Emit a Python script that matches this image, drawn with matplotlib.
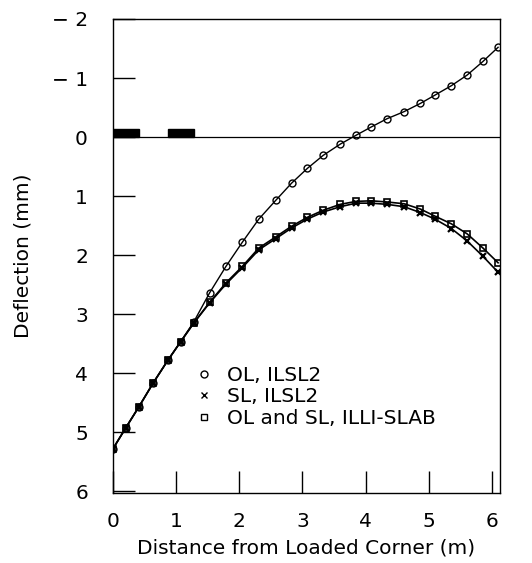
import numpy as np
from matplotlib import pyplot as plt

# distance from loaded corner (m)
x = [0.0, 0.2, 0.41, 0.64, 0.87, 1.07, 1.28, 1.53, 1.79, 2.05, 2.31, 2.58, 2.83,
     3.08, 3.33, 3.60, 3.85, 4.09, 4.34, 4.61, 4.87, 5.10, 5.36, 5.61, 5.86, 6.1]

# deflection (mm), positive = downward
ol_ilsl2 = [5.28, 4.93, 4.57, 4.16, 3.78, 3.47, 3.13, 2.64, 2.19, 1.78, 1.39, 1.07, 0.78,
            0.53, 0.31, 0.12, -0.03, -0.17, -0.31, -0.43, -0.57, -0.71, -0.87, -1.05, -1.28, -1.52]
sl_ilsl2 = [5.28, 4.93, 4.57, 4.16, 3.78, 3.47, 3.15, 2.81, 2.49, 2.21, 1.91, 1.72, 1.54,
            1.39, 1.27, 1.18, 1.12, 1.12, 1.14, 1.18, 1.28, 1.39, 1.55, 1.76, 2.02, 2.29]
illi_slab = [5.28, 4.93, 4.57, 4.16, 3.78, 3.47, 3.15, 2.80, 2.47, 2.19, 1.88, 1.69, 1.51,
             1.36, 1.24, 1.14, 1.09, 1.08, 1.10, 1.13, 1.22, 1.34, 1.47, 1.64, 1.88, 2.13]

# wheel loads drawn on the zero line
wheel_starts = [0.0, 0.87]
wheel_width = 0.41
wheel_height = -0.14

x_ticks = [0, 1, 2, 3, 4, 5, 6]
y_ticks = [-2, -1, 0, 1, 2, 3, 4, 5, 6]
y_tick_labels = ['\u2212 2', '\u2212 1', '0', '1', '2', '3', '4', '5', '6']

fig = plt.figure(figsize=(5.32, 5.63), dpi=100)
ax = fig.add_axes([0.2124, 0.1243, 0.7274, 0.842])

ax.axhline(0, color='black', lw=0.9)
ax.bar(wheel_starts, [wheel_height] * len(wheel_starts), width=wheel_width,
       align='edge', color='black', edgecolor='black')

ax.plot(x, ol_ilsl2, color='black', lw=1.0, marker='o', ms=5, mfc='none',
        mew=1.0, label='OL, ILSL2')
ax.plot(x, sl_ilsl2, color='black', lw=1.2, marker='x', ms=4.5, mew=1.6,
        label='SL, ILSL2')
ax.plot(x, illi_slab, color='black', lw=1.2, marker='s', ms=5, mfc='none',
        mew=1.2, label='OL and SL, ILLI-SLAB')

ax.set_xlim(0, 6.13)
ax.set_ylim(6.03, -2.0)
ax.set_xticks(x_ticks)
ax.set_yticks(y_ticks)
ax.set_yticklabels(y_tick_labels)

ax.tick_params(direction='in', length=16, width=1.0, labelsize=14.5,
               top=False, right=False)
ax.tick_params(axis='y', pad=18)
ax.tick_params(axis='x', pad=14)
for s in ax.spines.values():
    s.set_linewidth(1.0)

ax.set_xlabel('Distance from Loaded Corner (m)', fontsize=14.5, labelpad=5)
ax.set_ylabel('Deflection (mm)', fontsize=14.5, labelpad=14)

leg = ax.legend(loc='upper left', bbox_to_anchor=(0.2, 0.285), frameon=False,
                fontsize=14.5, handlelength=0.6, handletextpad=0.8,
                labelspacing=0.12, borderaxespad=0)
for h in leg.legend_handles:
    h.set_linestyle('none')
    h.set_markersize(5)
    h.set_markeredgewidth(1.0)

fig.savefig('out.png', dpi=100)
